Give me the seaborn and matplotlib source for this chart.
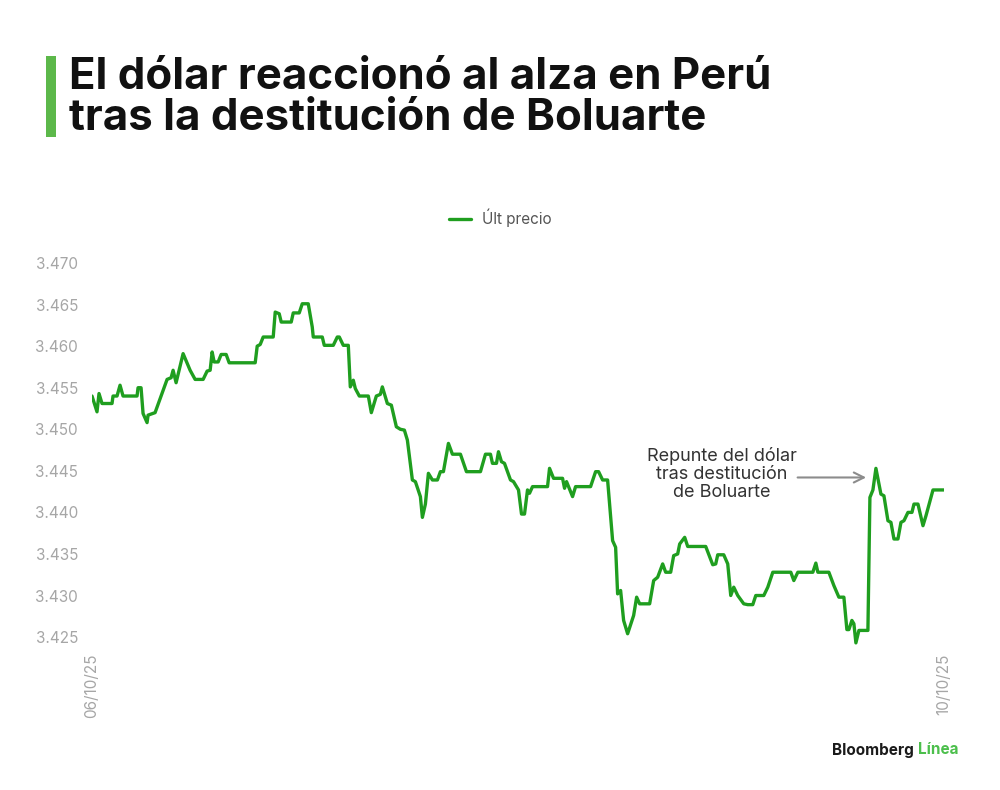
import pandas as pd
import numpy as np
import matplotlib
matplotlib.use("Agg")
import matplotlib.pyplot as plt
import seaborn as sns
from matplotlib.patches import Rectangle

# Datos: observación intradía (06/10/25 -> 10/10/25) y último precio USD/PEN
obs = [0, 5, 7, 10, 20, 21, 25, 28, 31, 45, 46, 49, 51, 55, 56, 63, 75, 79, 81, 84,
       91, 98, 103, 111, 115, 118, 120, 122, 126, 129, 134, 137, 163, 165, 168, 171, 181, 183, 187, 189,
       199, 201, 207, 210, 216, 220, 221, 230, 232, 241, 245, 247, 251, 256, 258, 261, 263, 267, 276, 279,
       284, 288, 290, 295, 299, 304, 308, 312, 315, 320, 323, 328, 330, 333, 336, 340, 345, 348, 351, 356,
       360, 368, 374, 388, 393, 398, 400, 404, 406, 409, 412, 418, 421, 426, 429, 432, 435, 437, 440, 455,
       457, 461, 470, 472, 474, 480, 483, 498, 503, 506, 510, 515, 520, 523, 525, 528, 531, 535, 541, 544,
       547, 557, 561, 565, 570, 573, 578, 581, 585, 587, 592, 595, 613, 620, 623, 625, 631, 635, 638, 641,
       645, 651, 655, 660, 663, 671, 675, 680, 698, 701, 705, 720, 723, 725, 736, 741, 746, 751, 754, 756,
       759, 761, 763, 766, 775, 777, 780, 783, 788, 791, 795, 798, 801, 805, 808, 811, 815, 819, 821, 825,
       830, 833, 840, 851]
precio = [3.4540, 3.4521, 3.4543, 3.4531, 3.4531, 3.4540, 3.4540, 3.4553, 3.4540, 3.4540,
          3.4550, 3.4550, 3.4519, 3.4508, 3.4517, 3.4520, 3.4560, 3.4562, 3.4571, 3.4556,
          3.4591, 3.4571, 3.4560, 3.4560, 3.4570, 3.4571, 3.4593, 3.4581, 3.4581, 3.4590,
          3.4590, 3.4580, 3.4580, 3.4600, 3.4602, 3.4611, 3.4611, 3.4641, 3.4639, 3.4629,
          3.4629, 3.4640, 3.4640, 3.4651, 3.4651, 3.4623, 3.4611, 3.4611, 3.4601, 3.4601,
          3.4611, 3.4611, 3.4601, 3.4601, 3.4551, 3.4559, 3.4549, 3.4540, 3.4540, 3.4520,
          3.4540, 3.4542, 3.4551, 3.4531, 3.4529, 3.4503, 3.4500, 3.4499, 3.4487, 3.4439,
          3.4437, 3.4419, 3.4394, 3.4410, 3.4447, 3.4439, 3.4439, 3.4449, 3.4449, 3.4483,
          3.4470, 3.4470, 3.4449, 3.4449, 3.4470, 3.4470, 3.4459, 3.4459, 3.4473, 3.4461,
          3.4459, 3.4439, 3.4437, 3.4427, 3.4398, 3.4398, 3.4427, 3.4423, 3.4431, 3.4431,
          3.4453, 3.4441, 3.4441, 3.4429, 3.4437, 3.4419, 3.4431, 3.4431, 3.4449, 3.4449,
          3.4439, 3.4439, 3.4366, 3.4358, 3.4302, 3.4306, 3.4270, 3.4254, 3.4276, 3.4298,
          3.4290, 3.4290, 3.4318, 3.4322, 3.4338, 3.4328, 3.4328, 3.4348, 3.4350, 3.4362,
          3.4370, 3.4359, 3.4359, 3.4337, 3.4338, 3.4349, 3.4349, 3.4338, 3.4300, 3.4310,
          3.4300, 3.4290, 3.4289, 3.4289, 3.4300, 3.4300, 3.4310, 3.4328, 3.4328, 3.4318,
          3.4328, 3.4328, 3.4339, 3.4328, 3.4328, 3.4312, 3.4298, 3.4298, 3.4259, 3.4259,
          3.4270, 3.4266, 3.4243, 3.4258, 3.4258, 3.4418, 3.4427, 3.4453, 3.4422, 3.4420,
          3.4390, 3.4388, 3.4368, 3.4368, 3.4388, 3.4390, 3.4400, 3.4400, 3.4410, 3.4410,
          3.4384, 3.4396, 3.4427, 3.4427]
y_ticks = [3.425, 3.430, 3.435, 3.440, 3.445, 3.450, 3.455, 3.460, 3.465, 3.470]
x_ticks = [0, 851]
x_labels = ["06/10/25", "10/10/25"]

df = pd.DataFrame({"obs": obs, "precio": precio})

sns.set_style("white")
plt.rcParams['font.family'] = ['Inter', 'DejaVu Sans']

verde = "#1f9e1f"
gris = "#a6a6a6"

fig = plt.figure(figsize=(10, 7.9), dpi=100)
ax = fig.add_axes([0.092, 0.1778, 0.852, 0.4945])

sns.lineplot(data=df, x="obs", y="precio", color=verde, linewidth=2.4,
             label="Últ precio", ax=ax)

ax.set_xlim(0, 851)
ax.set_ylim(3.4235, 3.4705)
ax.set_yticks(y_ticks)
ax.set_yticklabels([f"{v:.3f}" for v in y_ticks])
ax.set_xticks(x_ticks)
ax.set_xticklabels(x_labels, rotation=90)
ax.tick_params(axis="both", length=0, labelsize=11, labelcolor=gris)
ax.tick_params(axis="y", pad=10)
ax.tick_params(axis="x", pad=3)
ax.set_xlabel("")
ax.set_ylabel("")
sns.despine(ax=ax, left=True, bottom=True)

ax.legend(loc="center", bbox_to_anchor=(0.5, 1 - 218 / 790), bbox_transform=fig.transFigure,
          frameon=False, fontsize=11, handlelength=1.45, handletextpad=0.7,
          labelcolor="#555555")

# Anotación
ax.text(629, 3.4446, "Repunte del dólar\ntras destitución\nde Boluarte", ha="center", va="center",
        fontsize=13, color="#333333", linespacing=1.1)
ax.annotate("", xy=(776, 3.4442), xytext=(702, 3.4442),
            arrowprops=dict(arrowstyle="->", color="#8c8c8c", lw=1.5, mutation_scale=18))

# Título
fig.add_artist(Rectangle((0.046, 1 - 137 / 790), 0.010, 81 / 790,
                         transform=fig.transFigure, color="#5cb84a", lw=0))
fig.text(0.069, 1 - 89 / 790, "El dólar reaccionó al alza en Perú", fontsize=31.5,
         fontweight="bold", color="#111111", va="baseline")
fig.text(0.069, 1 - 130 / 790, "tras la destitución de Boluarte", fontsize=31.5,
         fontweight="bold", color="#111111", va="baseline")

# Logo
logo = fig.text(0.832, 1 - 750 / 790, "Bloomberg", fontsize=11, fontweight="bold",
                color="#1a1a1a", va="center")
fig.canvas.draw()
bb = logo.get_window_extent()
fig.text(bb.x1 / 1000 + 0.004, 1 - 750 / 790, "Línea", fontsize=11, fontweight="bold",
         color="#4cbf4c", va="center")

fig.savefig("out.png", dpi=100, facecolor="white")
